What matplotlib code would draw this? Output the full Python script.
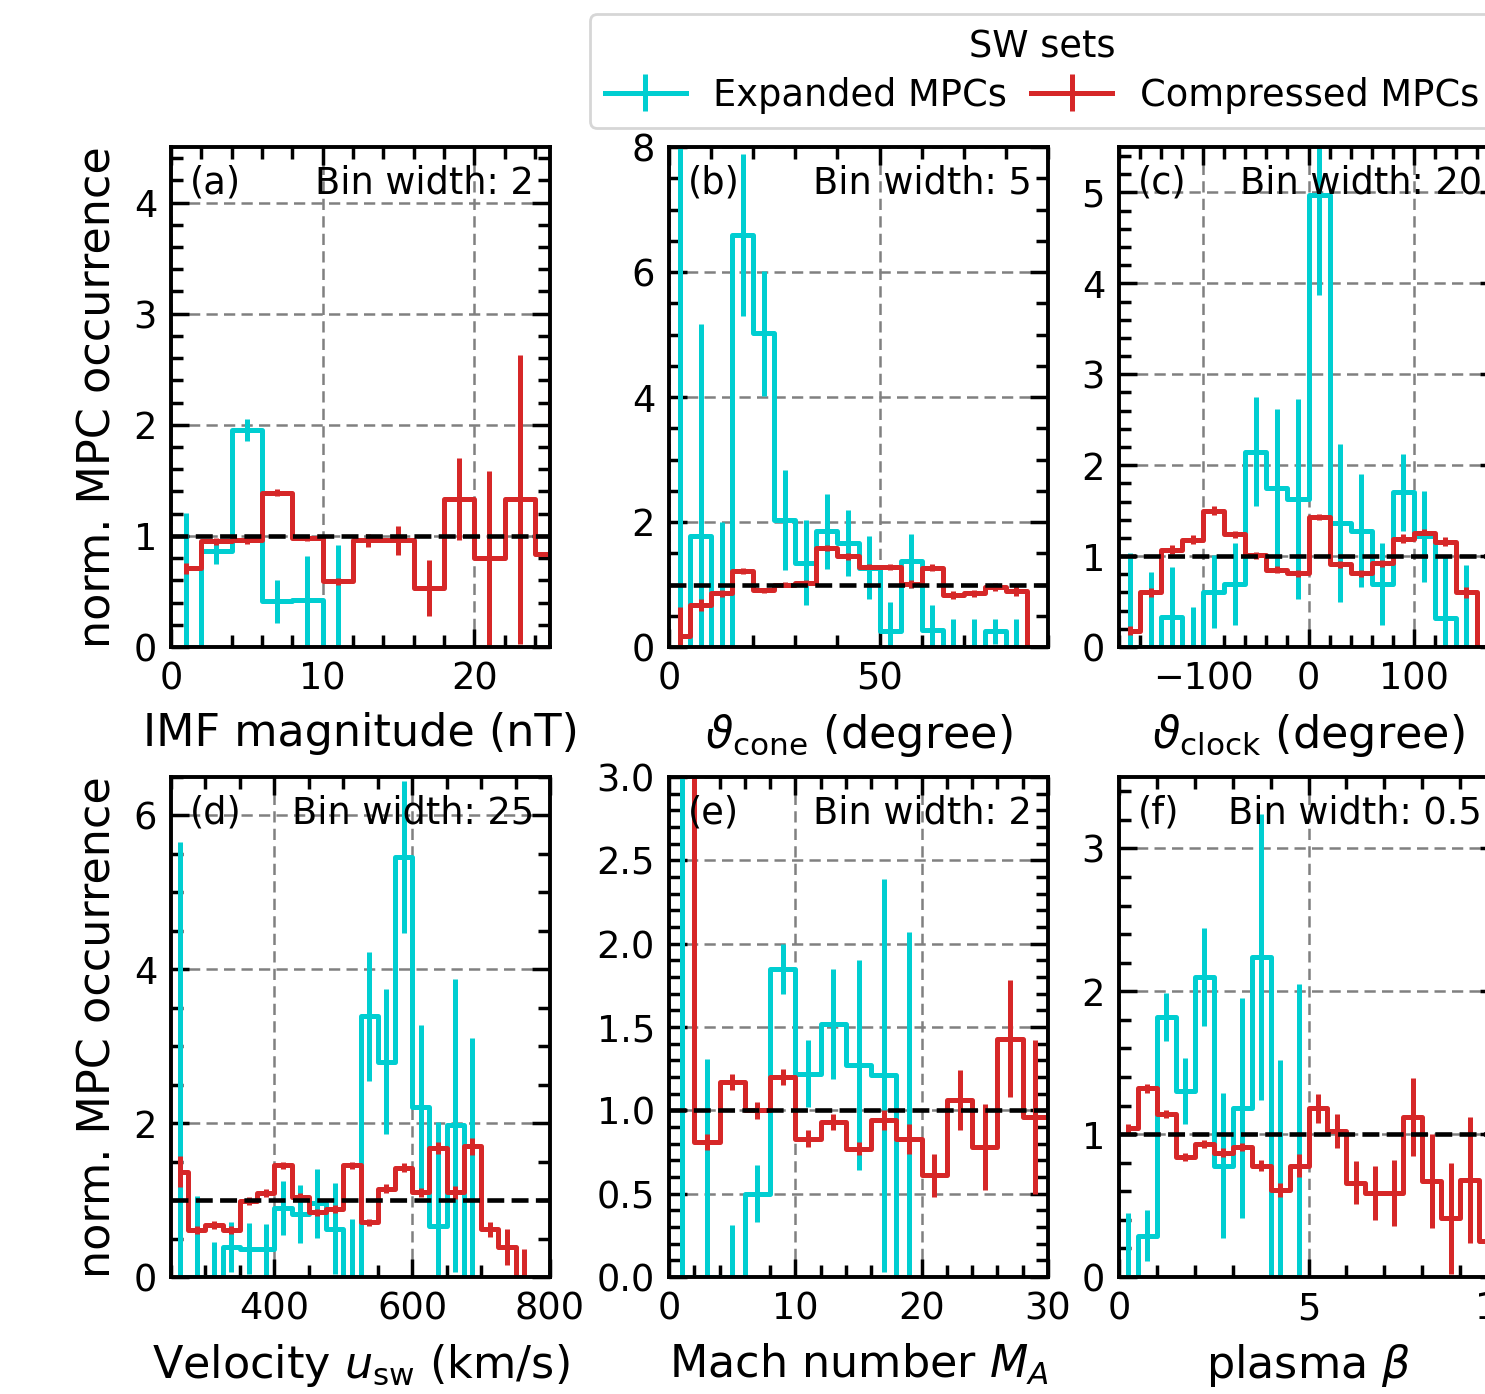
import matplotlib
matplotlib.use('Agg')
import matplotlib.pyplot as plt
from matplotlib.ticker import MultipleLocator, AutoMinorLocator

# (a) IMF magnitude, bin width 2
imf_x_exp = [1, 3, 5, 7, 9, 11]
imf_exp = [0, 0.86, 1.95, 0.41, 0.42, 0]
imf_exp_err = [1.21, 0.11, 0.1, 0.19, 0.4, 0.92]
imf_x_cmp = [1, 3, 5, 7, 9, 11, 13, 15, 17, 19, 21, 23, 25]
imf_cmp = [0.71, 0.95, 0.96, 1.39, 0.98, 0.59, 0.96, 0.96, 0.53, 1.33, 0.80, 1.33, 0.84]
imf_cmp_err = [0.05, 0.03, 0.03, 0.03, 0.03, 0.03, 0.06, 0.13, 0.25, 0.37, 0.78, 1.3, 1.68]

# (b) cone angle, bin width 5
cone_x_exp = [2.5, 7.5, 12.5, 17.5, 22.5, 27.5, 32.5, 37.5, 42.5, 47.5, 52.5, 57.5,
              62.5, 67.5, 72.5, 77.5, 82.5]
cone_exp = [0, 1.77, 0, 6.59, 5.02, 2.03, 1.35, 1.85, 1.67, 1.27, 0.25, 1.38,
            0.27, 0, 0, 0.25, 0]
cone_exp_err = [9, 3.4, 2.0, 1.3, 1.0, 0.8, 0.68, 0.6, 0.53, 0.5, 0.47, 0.43,
                0.4, 0.45, 0.45, 0.2, 0.45]
cone_x_cmp = [2.5, 7.5, 12.5, 17.5, 22.5, 27.5, 32.5, 37.5, 42.5, 47.5, 52.5, 57.5,
              62.5, 67.5, 72.5, 77.5, 82.5, 87.5]
cone_cmp = [0.17, 0.67, 0.86, 1.22, 0.91, 1.0, 1.03, 1.58, 1.45, 1.28, 1.28, 1.01,
            1.27, 0.83, 0.86, 0.96, 0.90, 0]
cone_cmp_err = [0.47, 0.1, 0.06, 0.05, 0.04, 0.04, 0.04, 0.05, 0.05, 0.05, 0.05, 0.06,
                0.06, 0.06, 0.06, 0.07, 0.08, 0]

# (c) clock angle, bin width 20
clock_x_exp = [-170, -150, -130, -110, -90, -70, -50, -30, -10, 10, 30, 50, 70, 90,
               110, 130, 150]
clock_exp = [0, 0, 0.33, 0, 0.61, 0.69, 2.15, 1.75, 1.63, 4.97, 1.36, 1.28, 0.69, 1.70,
             1.22, 0.32, 0]
clock_exp_err = [1.03, 0.82, 0.55, 0.44, 0.4, 0.45, 0.6, 0.87, 1.1, 1.1, 0.87, 0.62, 0.45,
                 0.42, 0.5, 0.67, 0.9]
clock_x_cmp = [-170, -150, -130, -110, -90, -70, -50, -30, -10, 10, 30, 50, 70, 90,
               110, 130, 150, 170]
clock_cmp = [0.18, 0.60, 1.07, 1.18, 1.50, 1.24, 1.01, 0.85, 0.81, 1.43, 0.91, 0.81,
             0.92, 1.19, 1.25, 1.16, 0.60, 0]
clock_cmp_err = [0.05, 0.05, 0.05, 0.05, 0.05, 0.04, 0.04, 0.04, 0.04, 0.03, 0.04, 0.04,
                 0.04, 0.05, 0.05, 0.05, 0.06, 0]

# (d) velocity, bin width 25
vel_x_exp = [262.5, 287.5, 312.5, 337.5, 362.5, 387.5, 412.5, 437.5, 462.5, 487.5,
             512.5, 537.5, 562.5, 587.5, 612.5, 637.5, 662.5, 687.5]
vel_exp = [0, 0, 0, 0.39, 0.37, 0.36, 0.90, 0.82, 0.96, 0.63, 0, 3.39, 2.80, 5.46,
           2.21, 0.66, 1.97, 0]
vel_exp_err = [5.65, 1.05, 0.46, 0.33, 0.33, 0.33, 0.35, 0.38, 0.45, 0.59, 0.75, 0.84,
               0.94, 0.99, 1.07, 1.36, 1.91, 3.11]
vel_x_cmp = [262.5, 287.5, 312.5, 337.5, 362.5, 387.5, 412.5, 437.5, 462.5, 487.5,
             512.5, 537.5, 562.5, 587.5, 612.5, 637.5, 662.5, 687.5, 712.5, 737.5, 762.5]
vel_cmp = [1.37, 0.61, 0.68, 0.61, 0.99, 1.09, 1.45, 1.04, 0.84, 0.88, 1.45, 0.71,
           1.15, 1.42, 1.10, 1.68, 1.10, 1.70, 0.62, 0.39, 0]
vel_cmp_err = [0.2, 0.05, 0.05, 0.05, 0.05, 0.05, 0.05, 0.05, 0.05, 0.05, 0.05, 0.05,
               0.06, 0.06, 0.06, 0.08, 0.08, 0.11, 0.1, 0.24, 0.36]

# (e) Alfven Mach number, bin width 2
mach_x_exp = [1, 3, 5, 7, 9, 11, 13, 15, 17, 19]
mach_exp = [0, 0, 0, 0.50, 1.85, 1.22, 1.52, 1.27, 1.21, 0]
mach_exp_err = [4, 1.31, 0.31, 0.17, 0.15, 0.2, 0.33, 0.63, 1.18, 2.07]
mach_x_cmp = [1, 3, 5, 7, 9, 11, 13, 15, 17, 19, 21, 23, 25, 27, 29, 31]
mach_cmp = [5, 0.81, 1.17, 1.0, 1.2, 0.83, 0.93, 0.77, 0.94, 0.83, 0.61, 1.06, 0.78,
            1.43, 0.96, 1.6]
mach_cmp_err = [0.5, 0.05, 0.05, 0.05, 0.05, 0.05, 0.05, 0.04, 0.06, 0.09, 0.13, 0.18,
                0.26, 0.35, 0.46, 0.5]

# (f) plasma beta, bin width 0.5
beta_x_exp = [0.25, 0.75, 1.25, 1.75, 2.25, 2.75, 3.25, 3.75, 4.25, 4.75]
beta_exp = [0, 0.29, 1.82, 1.30, 2.10, 0.78, 1.18, 2.24, 0, 0]
beta_exp_err = [0.45, 0.18, 0.17, 0.23, 0.34, 0.51, 0.77, 1.0, 1.52, 2.05]
beta_x_cmp = [0.25, 0.75, 1.25, 1.75, 2.25, 2.75, 3.25, 3.75, 4.25, 4.75, 5.25, 5.75,
              6.25, 6.75, 7.25, 7.75, 8.25, 8.75, 9.25, 9.75]
beta_cmp = [1.04, 1.32, 1.14, 0.84, 0.93, 0.87, 0.91, 0.78, 0.61, 0.78, 1.18, 1.02,
            0.66, 0.59, 0.59, 1.12, 0.67, 0.41, 0.68, 0.25]
beta_cmp_err = [0.03, 0.03, 0.03, 0.03, 0.03, 0.03, 0.03, 0.04, 0.05, 0.08, 0.1, 0.12,
                0.15, 0.19, 0.23, 0.27, 0.33, 0.39, 0.44, 0.5]

panels = [
    ('(a)', 'Bin width: 2', 'IMF magnitude (nT)', (0, 25), (0, 4.5), 10, 1,
     imf_x_exp, imf_exp, imf_exp_err, imf_x_cmp, imf_cmp, imf_cmp_err),
    ('(b)', 'Bin width: 5', r'$\vartheta_{\rm cone}$ (degree)', (0, 90), (0, 8), 50, 2,
     cone_x_exp, cone_exp, cone_exp_err, cone_x_cmp, cone_cmp, cone_cmp_err),
    ('(c)', 'Bin width: 20', r'$\vartheta_{\rm clock}$ (degree)', (-180, 180), (0, 5.5), 100, 1,
     clock_x_exp, clock_exp, clock_exp_err, clock_x_cmp, clock_cmp, clock_cmp_err),
    ('(d)', 'Bin width: 25', r'Velocity $u_{\rm sw}$ (km/s)', (250, 800), (0, 6.5), 200, 2,
     vel_x_exp, vel_exp, vel_exp_err, vel_x_cmp, vel_cmp, vel_cmp_err),
    ('(e)', 'Bin width: 2', r'Mach number $M_A$', (0, 30), (0, 3.0), 10, 0.5,
     mach_x_exp, mach_exp, mach_exp_err, mach_x_cmp, mach_cmp, mach_cmp_err),
    ('(f)', 'Bin width: 0.5', r'plasma $\beta$', (0, 10), (0, 3.5), 5, 1,
     beta_x_exp, beta_exp, beta_exp_err, beta_x_cmp, beta_cmp, beta_cmp_err),
]

c_exp = '#00ced1'
c_cmp = '#d62728'

plt.rcParams['axes.linewidth'] = 2.8
W, H = 1485, 1394
fig = plt.figure(figsize=(W / 100, H / 100), dpi=100)

lefts = [171, 669, 1119]
tops = [147, 777]
aw, ah = 379, 500

for i, p in enumerate(panels):
    (tag, binw, xlab, xlim, ylim, xmaj, ymaj,
     xe, ye, ee, xc, yc, ec) = p
    r, c = divmod(i, 3)
    ax = fig.add_axes([lefts[c] / W, 1 - (tops[r] + ah) / H, aw / W, ah / H])

    # histogram as steps, error bars at bin centres
    h_exp = ax.errorbar(xe, ye, yerr=ee, drawstyle='steps-mid', color=c_exp,
                        lw=3.6, elinewidth=3.6, capsize=0)
    h_cmp = ax.errorbar(xc, yc, yerr=ec, drawstyle='steps-mid', color=c_cmp,
                        lw=3.6, elinewidth=3.6, capsize=0)
    ax.axhline(1, color='k', ls='--', lw=3.3, zorder=3)

    ax.set_xlim(xlim)
    ax.set_ylim(ylim)
    ax.xaxis.set_major_locator(MultipleLocator(xmaj))
    ax.yaxis.set_major_locator(MultipleLocator(ymaj))
    ax.xaxis.set_minor_locator(AutoMinorLocator())
    ax.yaxis.set_minor_locator(AutoMinorLocator())
    ax.tick_params(which='both', direction='in', top=True, right=True,
                   labelsize=26.5, width=2.5, pad=10)
    ax.tick_params(which='major', length=13)
    ax.tick_params(which='minor', length=8.5)
    ax.grid(True, which='major', color='gray', ls=(0, (4.5, 2.5)), lw=1.8)

    ax.text(0.05, 0.928, tag, transform=ax.transAxes, fontsize=26.5, va='center')
    ax.text(0.958, 0.928, binw, transform=ax.transAxes, fontsize=26.5,
            va='center', ha='right')
    ax.set_xlabel(xlab, fontsize=32, labelpad=10)
    if c == 0:
        ax.set_ylabel('norm. MPC occurrence', fontsize=32, labelpad=10)

leg = fig.legend(handles=[h_exp, h_cmp], labels=['Expanded MPCs', 'Compressed MPCs'],
                 title='SW sets', ncol=2, loc='upper left',
                 bbox_to_anchor=(590 / W, 1 - 14 / H), borderaxespad=0,
                 fontsize=26.5, title_fontsize=26.5, handlelength=2.2,
                 handletextpad=0.75, columnspacing=0.65, labelspacing=0.3)
leg.get_frame().set_linewidth(2)

fig.savefig('out.png', dpi=100)
